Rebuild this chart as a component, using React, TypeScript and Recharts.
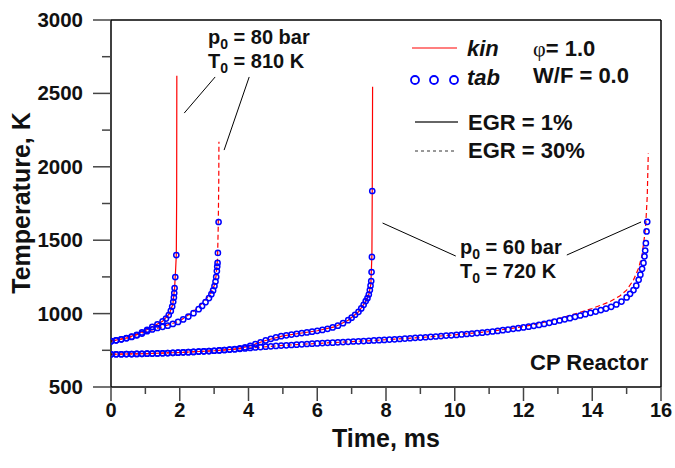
import { ComposedChart, Line, Scatter, XAxis, YAxis, ReferenceLine } from 'recharts'

const FONT = '"Liberation Sans", Arial, sans-serif'

const xTicks = [0, 1, 2, 3, 4, 5, 6, 7, 8, 9, 10, 11, 12, 13, 14, 15, 16]
const yTicks = [500, 750, 1000, 1250, 1500, 1750, 2000, 2250, 2500, 2750, 3000]

// p0 = 80 bar, T0 = 810 K
const kin80Egr1 = [[0, 812], [0.5, 836], [1.0, 885], [1.5, 948], [1.7, 1000], [1.8, 1065], [1.85, 1174], [1.88, 1300], [1.9, 1400], [1.91, 1800], [1.915, 2620]]
const tab80Egr1 = [[0, 812], [0.15, 818], [0.3, 825], [0.45, 833], [0.6, 843], [0.75, 855], [0.9, 872], [1.05, 890], [1.2, 910], [1.35, 927], [1.5, 948], [1.6, 966], [1.68, 990], [1.74, 1018], [1.78, 1048], [1.81, 1080], [1.83, 1110], [1.84, 1140], [1.85, 1174], [1.87, 1249], [1.9, 1399]]
const kin80Egr30 = [[0, 812], [0.5, 835], [1.0, 876], [1.5, 910], [2.0, 950], [2.4, 1015], [2.7, 1080], [2.9, 1140], [3.0, 1190], [3.06, 1260], [3.1, 1380], [3.12, 1600], [3.135, 1900], [3.14, 2170]]
const tab80Egr30 = [[0, 812], [0.15, 818], [0.3, 825], [0.45, 832], [0.6, 841], [0.75, 852], [0.9, 864], [1.05, 880], [1.2, 892], [1.35, 902], [1.5, 910], [1.65, 918], [1.8, 930], [1.95, 943], [2.1, 960], [2.25, 980], [2.4, 1003], [2.55, 1030], [2.65, 1052], [2.75, 1078], [2.85, 1106], [2.92, 1132], [2.97, 1158], [3.01, 1188], [3.04, 1218], [3.06, 1250], [3.08, 1290], [3.09, 1320], [3.1, 1345], [3.11, 1413], [3.13, 1624]]

// p0 = 60 bar, T0 = 720 K
const kin60Egr1 = [[0, 723], [1, 727], [2, 735], [3, 747], [3.6, 758], [4.0, 777], [4.5, 817], [5.0, 848], [5.5, 866], [6.0, 883], [6.5, 909], [6.9, 955], [7.2, 1012], [7.4, 1080], [7.5, 1130], [7.56, 1200], [7.59, 1400], [7.6, 1835], [7.61, 2545]]
const tab60Egr1 = [[0, 723], [0.15, 723], [0.3, 723], [0.45, 724], [0.6, 724], [0.75, 725], [0.9, 726], [1.05, 727], [1.2, 728], [1.35, 729], [1.5, 730], [1.65, 731], [1.8, 733], [1.95, 734], [2.1, 736], [2.25, 737], [2.4, 739], [2.55, 741], [2.7, 743], [2.85, 745], [3.0, 747], [3.15, 750], [3.3, 752], [3.45, 755], [3.6, 758], [3.75, 763], [3.9, 770], [4.05, 780], [4.2, 792], [4.35, 805], [4.5, 817], [4.65, 828], [4.8, 838], [4.95, 846], [5.1, 852], [5.25, 857], [5.4, 862], [5.55, 867], [5.7, 872], [5.85, 877], [6.0, 883], [6.15, 889], [6.3, 896], [6.45, 906], [6.6, 918], [6.75, 935], [6.9, 955], [7.0, 972], [7.1, 992], [7.2, 1012], [7.28, 1035], [7.35, 1060], [7.41, 1085], [7.46, 1105], [7.5, 1130], [7.53, 1160], [7.55, 1190], [7.57, 1222], [7.58, 1283], [7.59, 1386], [7.6, 1835]]
const kin60Egr30 = [[0, 723], [1, 727], [2, 735], [3, 747], [4, 765], [5, 783], [6, 797], [7, 809], [8, 822], [9, 837], [10, 855], [11, 877], [12, 912], [12.5, 935], [13, 965], [13.5, 998], [14, 1035], [14.5, 1080], [14.8, 1120], [15, 1160], [15.2, 1230], [15.35, 1310], [15.45, 1400], [15.55, 1580], [15.6, 1800], [15.63, 2090]]
const tab60Egr30 = [[0, 723], [0.15, 723], [0.3, 723], [0.45, 724], [0.6, 724], [0.75, 725], [0.9, 726], [1.05, 727], [1.2, 728], [1.35, 729], [1.5, 730], [1.65, 731], [1.8, 733], [1.95, 734], [2.1, 736], [2.25, 737], [2.4, 739], [2.55, 741], [2.7, 743], [2.85, 745], [3.0, 747], [3.15, 749], [3.3, 752], [3.45, 755], [3.6, 757], [3.75, 760], [3.9, 763], [4.05, 766], [4.2, 769], [4.35, 772], [4.5, 775], [4.65, 777], [4.8, 780], [4.95, 782], [5.1, 784], [5.25, 786], [5.4, 788], [5.55, 791], [5.7, 793], [5.85, 795], [6.0, 797], [6.15, 799], [6.3, 801], [6.45, 802], [6.6, 804], [6.75, 806], [6.9, 808], [7.05, 810], [7.2, 811], [7.35, 813], [7.5, 815], [7.65, 817], [7.8, 819], [7.95, 821], [8.1, 823], [8.25, 825], [8.4, 827], [8.55, 830], [8.7, 832], [8.85, 835], [9.0, 837], [9.15, 839], [9.3, 842], [9.45, 844], [9.6, 847], [9.75, 850], [9.9, 852], [10.05, 855], [10.2, 858], [10.35, 861], [10.5, 864], [10.65, 867], [10.8, 870], [10.95, 874], [11.1, 878], [11.25, 882], [11.4, 887], [11.55, 891], [11.7, 896], [11.85, 901], [12.0, 906], [12.15, 911], [12.3, 917], [12.45, 923], [12.6, 930], [12.75, 937], [12.9, 945], [13.05, 953], [13.2, 961], [13.35, 969], [13.5, 978], [13.65, 987], [13.8, 996], [13.95, 1005], [14.1, 1014], [14.25, 1024], [14.4, 1034], [14.55, 1046], [14.7, 1062], [14.85, 1082], [15.0, 1110], [15.1, 1135], [15.2, 1160], [15.28, 1190], [15.35, 1230], [15.4, 1265], [15.45, 1305], [15.49, 1345], [15.52, 1390], [15.54, 1430], [15.56, 1480], [15.58, 1560], [15.6, 1625]]

// leader lines for the p0/T0 notes, in data units
const leaders = [
    [[3.03, 2612], [2.13, 2366]],
    [[4.02, 2612], [3.29, 2114]],
    [[7.9, 1617], [10.03, 1392]],
    [[13.26, 1399], [15.42, 1624]],
]

const pts = (a: number[][]) => a.map(([t, T]) => ({ t, T }))

const XTick = ({ x, y, payload }: any) => {
    const major = payload.value % 2 === 0
    return (
        <g>
            <line x1={x} x2={x} y1={y} y2={y + (major ? 14 : 7)} stroke="#444" strokeWidth={1.5} />
            {major && (
                <text x={x} y={y + 30} textAnchor="middle" fontFamily={FONT} fontWeight="bold" fontSize={20} fill="#111">
                    {payload.value}
                </text>
            )}
        </g>
    )
}

const YTick = ({ x, y, payload }: any) => {
    const major = payload.value % 500 === 0
    return (
        <g>
            <line x1={x - (major ? 18 : 9)} x2={x} y1={y} y2={y} stroke="#444" strokeWidth={1.5} />
            {major && (
                <text x={x - 28} y={y + 7} textAnchor="end" fontFamily={FONT} fontWeight="bold" fontSize={20.5} fill="#111">
                    {payload.value}
                </text>
            )}
        </g>
    )
}

const Ring = (props: any) => <circle cx={props.cx} cy={props.cy} r={2.6} fill="none" stroke="#0000ff" strokeWidth={1.5} />

function Sub({ x, y, a, b, size = 20 }: { x: number; y: number; a: string; b: string; size?: number }) {
    return (
        <text x={x} y={y} fontFamily={FONT} fontWeight="bold" fontSize={size} fill="#111">
            {a}
            <tspan fontSize={14} dy={5}>0</tspan>
            <tspan dy={-5}>{b}</tspan>
        </text>
    )
}

export default function App() {
    const kin = [
        { d: kin80Egr1, dash: undefined },
        { d: kin80Egr30, dash: '5 3' },
        { d: kin60Egr1, dash: undefined },
        { d: kin60Egr30, dash: '5 3' },
    ]
    const tab = [tab80Egr1, tab80Egr30, tab60Egr1, tab60Egr30]

    return (
        <div style={{ position: 'absolute', left: 0, top: 0, width: 675, height: 468, background: '#fff' }}>
            <ComposedChart width={675} height={468} margin={{ top: 20, right: 14, bottom: 21, left: 31 }}>
                <XAxis
                    type="number"
                    dataKey="t"
                    domain={[0, 16]}
                    ticks={xTicks}
                    interval={0}
                    height={60}
                    tickSize={0}
                    tickMargin={0}
                    tickLine={false}
                    tick={<XTick />}
                    axisLine={{ stroke: '#000', strokeWidth: 1.5 }}
                    allowDataOverflow
                />
                <YAxis
                    type="number"
                    dataKey="T"
                    domain={[500, 3000]}
                    ticks={yTicks}
                    interval={0}
                    width={80}
                    tickSize={0}
                    tickMargin={0}
                    tickLine={false}
                    tick={<YTick />}
                    axisLine={{ stroke: '#000', strokeWidth: 1.5 }}
                    allowDataOverflow
                />
                <ReferenceLine y={3000} stroke="#000" strokeWidth={1.5} />
                <ReferenceLine x={16} stroke="#000" strokeWidth={1.5} />
                {leaders.map((s, i) => (
                    <ReferenceLine
                        key={'l' + i}
                        segment={[{ x: s[0][0], y: s[0][1] }, { x: s[1][0], y: s[1][1] }]}
                        stroke="#000"
                        strokeWidth={1}
                    />
                ))}
                {kin.map((k, i) => (
                    <Line
                        key={'k' + i}
                        data={pts(k.d)}
                        dataKey="T"
                        type="linear"
                        stroke="#ff0000"
                        strokeWidth={1.2}
                        strokeDasharray={k.dash}
                        dot={false}
                        activeDot={false}
                        isAnimationActive={false}
                    />
                ))}
                {tab.map((d, i) => (
                    <Scatter key={'s' + i} data={pts(d)} dataKey="T" shape={Ring} isAnimationActive={false} />
                ))}
            </ComposedChart>
            <svg width={675} height={468} style={{ position: 'absolute', left: 0, top: 0, pointerEvents: 'none' }}>
                <text transform="translate(30,203) rotate(-90)" textAnchor="middle" fontFamily={FONT} fontWeight="bold" fontSize={25} fill="#111">
                    Temperature, K
                </text>
                <text x={386} y={447} textAnchor="middle" fontFamily={FONT} fontWeight="bold" fontSize={25} fill="#111">
                    Time, ms
                </text>

                <Sub x={208} y={44} a="p" b=" = 80 bar" />
                <Sub x={208} y={68} a="T" b=" = 810 K" />
                <Sub x={460} y={254} a="p" b=" = 60 bar" />
                <Sub x={460} y={278} a="T" b=" = 720 K" />

                <line x1={412} x2={457} y1={48} y2={48} stroke="#ff0000" strokeWidth={1.2} />
                <text x={467} y={56} fontFamily={FONT} fontWeight="bold" fontStyle="italic" fontSize={22} fill="#111">kin</text>
                <circle cx={415} cy={80} r={4} fill="none" stroke="#0000ff" strokeWidth={1.8} />
                <circle cx={434} cy={80} r={4} fill="none" stroke="#0000ff" strokeWidth={1.8} />
                <circle cx={454} cy={80} r={4} fill="none" stroke="#0000ff" strokeWidth={1.8} />
                <text x={467} y={85} fontFamily={FONT} fontWeight="bold" fontStyle="italic" fontSize={22} fill="#111">tab</text>

                <text x={533} y={56} fontFamily={FONT} fontWeight="bold" fontSize={22} fill="#111">
                    <tspan fontFamily='"Liberation Serif", serif' fontWeight="normal">φ</tspan>= 1.0
                </text>
                <text x={533} y={83} fontFamily={FONT} fontWeight="bold" fontSize={22} fill="#111">W/F = 0.0</text>

                <line x1={415} x2={458} y1={122} y2={122} stroke="#333" strokeWidth={1.3} />
                <text x={468} y={130} fontFamily={FONT} fontWeight="bold" fontSize={22} fill="#111">EGR = 1%</text>
                <line x1={415} x2={455} y1={151} y2={151} stroke="#333" strokeWidth={1} strokeDasharray="3 3" />
                <text x={468} y={158} fontFamily={FONT} fontWeight="bold" fontSize={22} fill="#111">EGR = 30%</text>

                <text x={530} y={370} fontFamily={FONT} fontWeight="bold" fontSize={22} fill="#111">CP Reactor</text>
            </svg>
        </div>
    )
}
